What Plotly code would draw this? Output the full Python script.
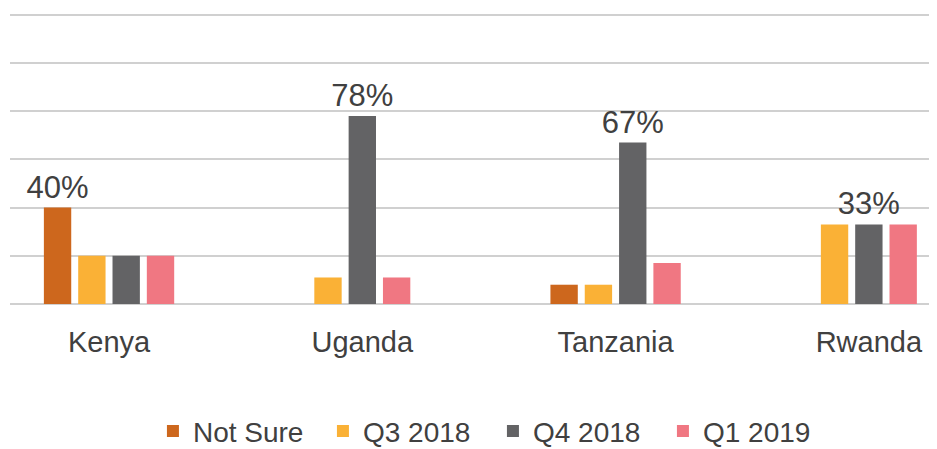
import plotly.graph_objects as go

categories = ["Kenya", "Uganda", "Tanzania", "Rwanda"]
series_names = ["Not Sure", "Q3 2018", "Q4 2018", "Q1 2019"]
not_sure = [40, None, 8, None]
q3_2018 = [20, 11, 8, 33]
q4_2018 = [20, 78, 67, 33]
q1_2019 = [20, 11, 17, 33]
not_sure_labels = ["40%", "", "", ""]
q3_labels = ["", "", "", ""]
q4_labels = ["", "78%", "67%", "33%"]
q1_labels = ["", "", "", ""]

colors = ["#CD671D", "#FAB136", "#636365", "#F07782"]
series = [not_sure, q3_2018, q4_2018, q1_2019]
labels = [not_sure_labels, q3_labels, q4_labels, q1_labels]

step = 0.1355
bar_w = 0.108
offsets = [[0.0] * len(categories) for _ in series]
for ci in range(len(categories)):
    present = [si for si, s in enumerate(series) if s[ci] is not None]
    n = len(present)
    for j, si in enumerate(present):
        offsets[si][ci] = (j - (n - 1) / 2) * step - bar_w / 2

FONT = "Liberation Sans, Arial, sans-serif"
TXT = "#404040"

fig = go.Figure()
for si, name in enumerate(series_names):
    fig.add_trace(go.Bar(
        x=categories, y=series[si], name=name,
        marker=dict(color=colors[si], line=dict(width=0)),
        width=[bar_w] * len(categories),
        offset=offsets[si],
        text=labels[si], textposition="outside", constraintext="none",
        textfont=dict(size=31, color=TXT, family=FONT),
        cliponaxis=False,
        hoverinfo="skip",
    ))

# the page body adds an 8px margin, so the figure is 8px smaller and margins shifted
fig.update_layout(
    width=929, height=441,
    margin=dict(l=2, r=0, t=2, b=145, autoexpand=False),
    barmode="overlay",
    plot_bgcolor="white", paper_bgcolor="white",
    font=dict(family=FONT, color=TXT),
    showlegend=True,
    legend=dict(orientation="h", x=0.522, xanchor="center", xref="container",
                y=0.04, yanchor="middle", yref="container",
                font=dict(size=28, color=TXT, family=FONT),
                itemwidth=30, entrywidth=125, traceorder="normal"),
    xaxis=dict(type="category", range=[-0.391, 3.269], showgrid=False,
               showline=False, ticks="", ticklabelstandoff=18, automargin=False,
               tickfont=dict(size=29, color=TXT, family=FONT)),
    yaxis=dict(range=[0, 122], showticklabels=False, showgrid=True,
               gridcolor="#D0D0D0", gridwidth=2, dtick=20, tick0=0,
               zeroline=True, zerolinecolor="#D0D0D0", zerolinewidth=2,
               showline=False, ticks="", automargin=False),
)

fig.write_html("out.html")
